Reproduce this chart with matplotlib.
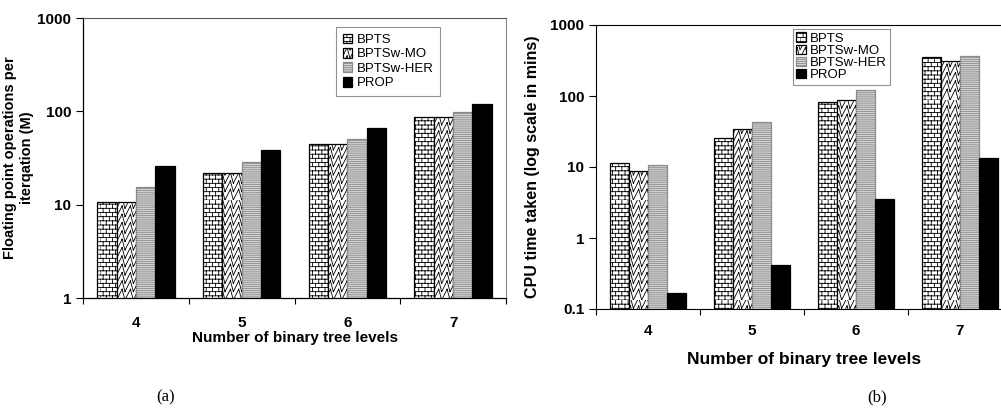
import warnings
warnings.filterwarnings("ignore")
import numpy as np
import matplotlib
matplotlib.use("Agg")
import matplotlib.pyplot as plt
import matplotlib.hatch as mhatch
from matplotlib.path import Path

# ---------------- data ----------------
levels = ["4", "5", "6", "7"]
series = ["BPTS", "BPTSw-MO", "BPTSw-HER", "PROP"]
flops_bpts = [10.8, 21.7, 44.4, 87.7]
flops_mo = [10.8, 21.7, 44.4, 87.7]
flops_her = [15.4, 28.9, 50.0, 98.6]
flops_prop = [26.0, 39.0, 66.0, 119.0]
cpu_bpts = [11.4, 25.4, 81.5, 351.0]
cpu_mo = [8.9, 34.3, 87.0, 311.0]
cpu_her = [10.7, 42.6, 121.6, 370.0]
cpu_prop = [0.17, 0.42, 3.6, 13.3]


# ---------------- custom hatches ----------------
class BrickHatch(mhatch.HatchPatternBase):
    def __init__(self, hatch, density):
        self.rows = hatch.count('b') * density
        self.cols = (self.rows * 2) // 3
        if self.rows:
            self.num_vertices = 2 * self.rows + 2 * self.rows * self.cols
        else:
            self.num_vertices = 0

    def set_vertices_and_codes(self, vertices, codes):
        k = 0
        for i in range(self.rows):
            y = i / self.rows
            vertices[k] = (0.0, y); vertices[k + 1] = (1.0, y)
            codes[k] = Path.MOVETO; codes[k + 1] = Path.LINETO
            k += 2
        for i in range(self.rows):
            y0 = i / self.rows
            y1 = (i + 1) / self.rows
            off = 0.5 * (i % 2)
            for j in range(self.cols):
                x = ((j + off) / self.cols) % 1.0
                vertices[k] = (x, y0); vertices[k + 1] = (x, y1)
                codes[k] = Path.MOVETO; codes[k + 1] = Path.LINETO
                k += 2


class ZigzagHatch(mhatch.HatchPatternBase):
    def __init__(self, hatch, density):
        self.rows = hatch.count('z') * density
        self.per = self.rows
        if self.rows:
            self.num_vertices = self.rows * self.per * 4
        else:
            self.num_vertices = 0

    def set_vertices_and_codes(self, vertices, codes):
        k = 0
        h = 1.0 / self.rows
        w = 1.0 / self.per
        for i in range(self.rows):
            y = i * h
            for j in range(self.per):
                x0 = j * w
                xm = x0 + 0.65 * w
                x1 = x0 + w
                vertices[k] = (x0, y); vertices[k + 1] = (xm, y + h * 1.3)
                codes[k] = Path.MOVETO; codes[k + 1] = Path.LINETO
                vertices[k + 2] = (xm, y + h * 1.3); vertices[k + 3] = (x1, y)
                codes[k + 2] = Path.MOVETO; codes[k + 3] = Path.LINETO
                k += 4


mhatch._hatch_types.append(BrickHatch)
mhatch._hatch_types.append(ZigzagHatch)

plt.rcParams['font.family'] = ['Liberation Sans', 'DejaVu Sans']
plt.rcParams['hatch.linewidth'] = 0.6

styles = [
    dict(facecolor='white', edgecolor='black', hatch='bbbb'),
    dict(facecolor='white', edgecolor='black', hatch='zz'),
    dict(facecolor='#d4d4d4', edgecolor='#8a8a8a', hatch='--------'),
    dict(facecolor='black', edgecolor='black', hatch=None),
]

W, H = 1001, 408
fig = plt.figure(figsize=(W / 100, H / 100), dpi=100)

TICK_FS = 11


def make_axes(px_left, px_right, px_top, px_bottom):
    return fig.add_axes([px_left / W, 1 - px_bottom / H,
                         (px_right - px_left) / W, (px_bottom - px_top) / H])


def draw(ax, data, bw):
    x = np.arange(len(levels))
    for k, (vals, st) in enumerate(zip(data, styles)):
        ax.bar(x + (k - 1.5) * bw, vals, width=bw, linewidth=0.9,
               label=series[k], **st)
    ax.set_yscale('log')
    ax.set_xlim(-0.5, 3.5)
    ax.set_xticks(x)
    ax.set_xticklabels(levels)
    ax.set_xticks([-0.5, 0.5, 1.5, 2.5, 3.5], minor=True)
    ax.tick_params(axis='x', which='major', length=0, pad=13)
    ax.tick_params(axis='x', which='minor', length=4, direction='out', width=0.8)
    ax.tick_params(axis='y', which='major', length=5, direction='out', width=0.8)
    ax.tick_params(axis='y', which='minor', length=0)
    ax.yaxis.set_minor_formatter(matplotlib.ticker.NullFormatter())


def style_ticklabels(ax):
    for lab in ax.get_xticklabels() + ax.get_yticklabels():
        lab.set_fontweight('bold')
        lab.set_fontsize(TICK_FS)


# ---- left panel ----
ax1 = make_axes(83, 506, 18, 298)
draw(ax1, [flops_bpts, flops_mo, flops_her, flops_prop], 0.183)
ax1.set_ylim(1, 1000)
ax1.set_yticks([1, 10, 100, 1000])
ax1.set_yticklabels(['1', '10', '100', '1000'])
style_ticklabels(ax1)
ax1.spines['right'].set_color('#888888')
ax1.spines['top'].set_color('#555555')
for s in ['left', 'bottom']:
    ax1.spines[s].set_linewidth(0.9)
ax1.set_xlabel('Number of binary tree levels', fontsize=11, fontweight='bold',
               labelpad=1)
ax1.set_ylabel('Floating point operations per\niterqation (M)', fontsize=10.5,
               fontweight='bold', linespacing=1.35, labelpad=2)
leg1 = ax1.legend(loc='upper left', bbox_to_anchor=((336 - 83) / 423, 1 - (27 - 18) / 280),
                  fontsize=9.5, frameon=True, fancybox=False, edgecolor='#777777',
                  handlelength=0.75, handleheight=0.75, handletextpad=0.3,
                  borderpad=0.5, labelspacing=0.15, borderaxespad=0)
leg1.get_frame().set_linewidth(0.8)
fig.text(166 / W, 1 - 397 / H, '(a)', ha='center', va='center', fontsize=12,
         family=['Liberation Serif'])

# ---- right panel ----
ax2 = make_axes(596, 1012, 25, 309)
draw(ax2, [cpu_bpts, cpu_mo, cpu_her, cpu_prop], 0.182)
ax2.set_ylim(0.1, 1000)
ax2.set_yticks([0.1, 1, 10, 100, 1000])
ax2.set_yticklabels(['0.1', '1', '10', '100', '1000'])
style_ticklabels(ax2)
ax2.spines['right'].set_visible(False)
ax2.tick_params(axis='x', which='major', pad=11)
ax2.set_xlabel('Number of binary tree levels', fontsize=12.5, fontweight='bold',
               labelpad=10)
ax2.set_ylabel('CPU time taken (log scale in mins)', fontsize=11.5,
               fontweight='bold', labelpad=7)
leg2 = ax2.legend(loc='upper left', bbox_to_anchor=((793 - 596) / 416, 1 - (29 - 25) / 284),
                  fontsize=9.5, frameon=True, fancybox=False, edgecolor='#777777',
                  handlelength=0.75, handleheight=0.7, handletextpad=0.3,
                  borderpad=0.25, labelspacing=0.0, borderaxespad=0)
leg2.get_frame().set_linewidth(0.8)
fig.text(877 / W, 1 - 397 / H, '(b)', ha='center', va='center', fontsize=12,
         family=['Liberation Serif'])

fig.savefig('out.png', dpi=100)
